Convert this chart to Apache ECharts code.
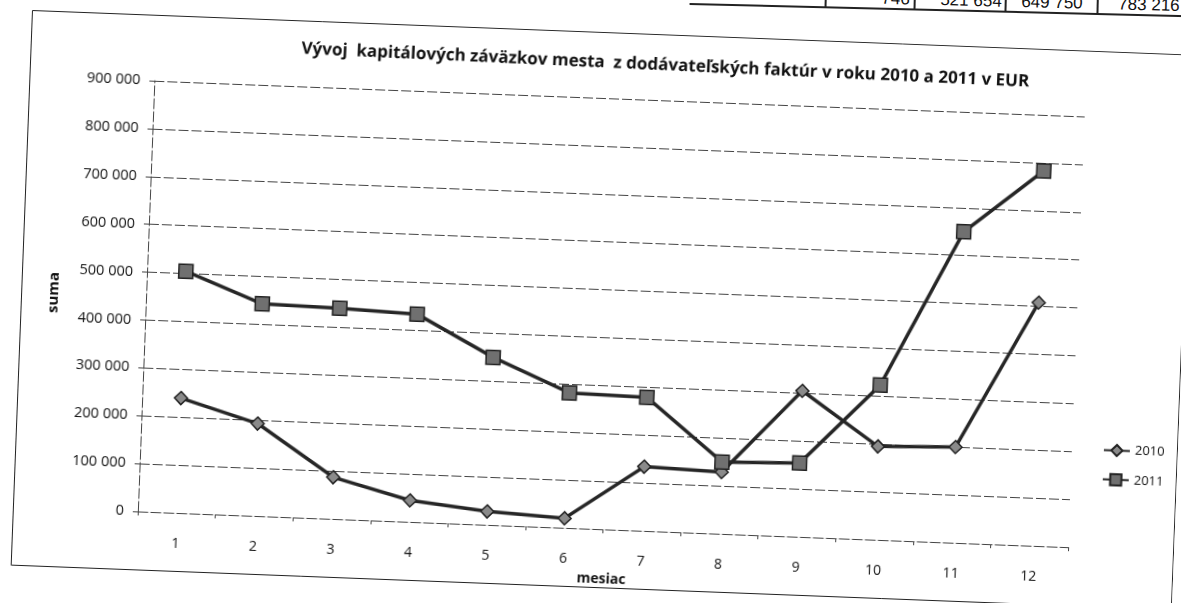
<!DOCTYPE html>
<html><head><meta charset="utf-8">
<script src="https://cdn.jsdelivr.net/npm/echarts@6/dist/echarts.min.js"></script>
<style>
html,body{margin:0;padding:0;width:1181px;height:603px;overflow:hidden;background:#fff;}
#chart{position:absolute;left:32px;top:10px;width:1162px;height:560px;transform-origin:0 0;transform:rotate(2.2deg);}
#tbl{position:absolute;left:690px;top:-14px;width:560px;height:40px;transform-origin:0 0;transform:rotate(1.4deg);font-family:"Liberation Sans",Arial,sans-serif;font-size:17px;line-height:17px;color:#111;}
#tbl .t{position:absolute;top:-1px;white-space:nowrap;}
#tbl .v{position:absolute;top:0;width:1.5px;height:18px;background:#222;}
#tbl .h{position:absolute;left:0;top:17px;width:560px;height:2px;background:#222;}
</style></head><body>
<div id="tbl"></div>
<div id="chart"></div>
<script>
// ---- data ----
const months = ['1','2','3','4','5','6','7','8','9','10','11','12'];
const values2010 = [240000, 193000, 87000, 45000, 28000, 20000, 134000, 129000, 305000, 195000, 200000, 508000];
const values2011 = [505000, 443000, 440000, 434000, 350000, 282000, 279000, 150000, 154000, 323000, 649750, 783216];
const seriesNames = ['2010', '2011'];
const yMin = 0, yMax = 900000, yStep = 100000;
const titleText = 'Vývoj  kapitálových záväzkov mesta  z dodávateľských faktúr v roku 2010 a 2011 v EUR';
const tableCells = ['746', '521 654', '649 750', '783 216'];

// ---- table fragment at the top ----
const tbl = document.getElementById('tbl');
const cellRight = [220, 312, 393, 490];
const seps = [135, 224, 315, 407];
tbl.innerHTML = '<div class="h"></div>' +
  seps.map(a => '<div class="v" style="left:' + a + 'px"></div>').join('') +
  tableCells.map((t, i) => '<div class="t" style="right:' + (560 - cellRight[i]) + 'px">' + t + '</div>').join('');

// ---- chart ----
const fmt = v => String(v).replace(/\B(?=(\d{3})+(?!\d))/g, ' ');
const chart = echarts.init(document.getElementById('chart'));
const font = 'Open Sans';
chart.setOption({
  animation: false,
  textStyle: { fontFamily: font, color: '#111' },
  grid: { left: 125, right: 106, top: 66, bottom: 63 },
  legend: {
    orient: 'vertical', left: 1082, top: 387, itemGap: 16, itemWidth: 26, itemHeight: 14,
    textStyle: { fontSize: 13, color: '#111', fontFamily: font },
    data: seriesNames
  },
  xAxis: {
    type: 'category', data: months, boundaryGap: true,
    name: 'mesiac', nameLocation: 'middle', nameGap: 39,
    nameTextStyle: { fontWeight: 'bold', fontSize: 14, color: '#111', fontFamily: font },
    axisLine: { show: true, lineStyle: { color: '#444', width: 1, type: [10, 3] } },
    axisTick: { show: true, length: 4, lineStyle: { color: '#444' } },
    axisLabel: { margin: 24, fontSize: 14, color: '#111', fontFamily: font },
    splitLine: { show: false }
  },
  yAxis: {
    type: 'value', min: yMin, max: yMax, interval: yStep,
    name: 'suma', nameLocation: 'middle', nameGap: 85,
    nameTextStyle: { fontWeight: 'bold', fontSize: 15, color: '#111', fontFamily: font },
    axisLine: { show: true, lineStyle: { color: '#444', width: 1, type: [10, 3] } },
    axisTick: { show: true, length: 5, lineStyle: { color: '#444' } },
    axisLabel: { margin: 14, fontSize: 14.5, color: '#111', fontFamily: font, formatter: fmt },
    splitLine: { show: true, lineStyle: { color: '#444', width: 1, type: [10, 3] } }
  },
  series: [
    {
      name: seriesNames[0], type: 'line', data: values2010,
      symbol: 'diamond', symbolSize: 13, showAllSymbol: true,
      lineStyle: { color: '#262626', width: 3.5 },
      itemStyle: { color: '#8a8a8a', borderColor: '#222', borderWidth: 1.5 }
    },
    {
      name: seriesNames[1], type: 'line', data: values2011,
      symbol: 'rect', symbolSize: 14, showAllSymbol: true,
      lineStyle: { color: '#262626', width: 3.5 },
      itemStyle: { color: '#707070', borderColor: '#222', borderWidth: 1.5 }
    }
  ],
  graphic: [
    { type: 'rect', silent: true, shape: { x: 0.5, y: 0.5, width: 1161, height: 555 },
      style: { fill: null, stroke: '#222', lineWidth: 1 } },
    { type: 'text', silent: true, x: 635, y: 31, rotation: -0.4 * Math.PI / 180,
      style: { text: titleText, fontSize: 17, fontWeight: 'bold', fontFamily: font, fill: '#111',
               align: 'center', verticalAlign: 'middle' } }
  ]
});
</script>
</body></html>
